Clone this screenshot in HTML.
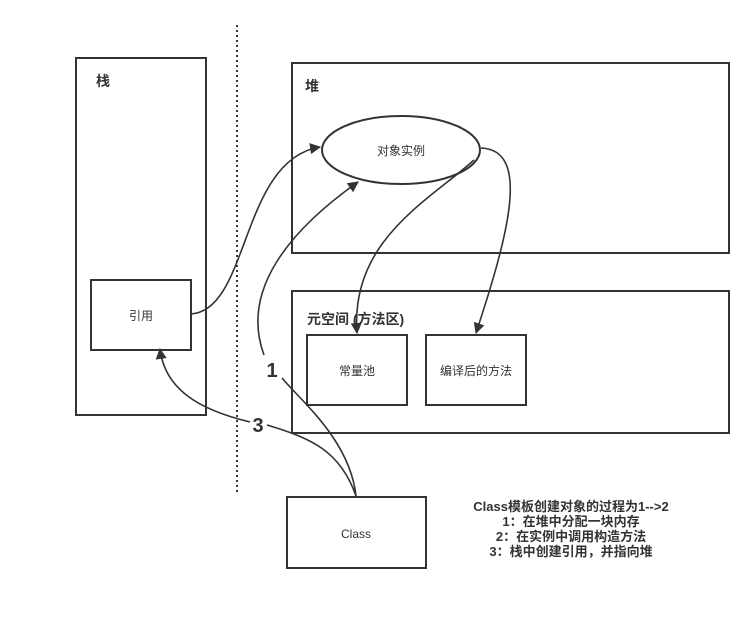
<!DOCTYPE html>
<html><head><meta charset="utf-8"><style>
body{margin:0;background:#fff;}
svg{display:block;font-family:"Liberation Sans","Noto Sans CJK SC",sans-serif;}
</style></head><body>
<svg width="754" height="634" viewBox="0 0 754 634" xmlns="http://www.w3.org/2000/svg">
<defs><marker id="a" viewBox="0 0 10 10" refX="9" refY="5" markerWidth="13" markerHeight="11" markerUnits="userSpaceOnUse" orient="auto"><path d="M0,0 L10,5 L0,10 z" fill="#333"/></marker></defs>
<g fill="none" stroke="#333" stroke-width="2">
<rect x="76" y="58" width="130" height="357"/>
<rect x="292" y="63" width="437" height="190"/>
<rect x="292" y="291" width="437" height="142"/>
<rect x="91" y="280" width="100" height="70"/>
<ellipse cx="401" cy="150" rx="79" ry="34"/>
<rect x="307" y="335" width="100" height="70"/>
<rect x="426" y="335" width="100" height="70"/>
<rect x="287" y="497" width="139" height="71"/>
<line x1="237" y1="25" x2="237" y2="495" stroke-dasharray="2,3"/>
</g>
<g fill="none" stroke="#333" stroke-width="1.6">
<path d="M191,314 C250,310 240,160 320,147" marker-end="url(#a)"/>
<path d="M356,496 C350,440 300,400 282,378" />
<path d="M264,355 C240,290 290,230 358,182" marker-end="url(#a)"/>
<path d="M356,496 C340,450 310,438 267,425"/>
<path d="M250,422 C200,410 165,390 160,349" marker-end="url(#a)"/>
<path d="M474,160 C430,200 350,240 357,333" marker-end="url(#a)"/>
<path d="M481,148 C530,150 510,230 476,333" marker-end="url(#a)"/>
</g>
<g fill="#333" font-size="13">
<text x="96" y="86" font-weight="bold" font-size="14">栈</text>
<text x="305" y="91" font-weight="bold" font-size="14">堆</text>
<text x="307" y="324" font-weight="bold" font-size="14">元空间 (方法区)</text>
<text x="141" y="320" text-anchor="middle" font-size="12">引用</text>
<text x="401" y="155" text-anchor="middle" font-size="12">对象实例</text>
<text x="357" y="375" text-anchor="middle" font-size="12">常量池</text>
<text x="476" y="375" text-anchor="middle" font-size="12">编译后的方法</text>
<text x="356" y="538" text-anchor="middle" font-size="12">Class</text>
<text x="272" y="377" text-anchor="middle" font-weight="bold" font-size="20">1</text>
<text x="258" y="432" text-anchor="middle" font-weight="bold" font-size="20">3</text>
<g font-weight="bold" font-size="13" text-anchor="middle">
<text x="571" y="511">Class模板创建对象的过程为1--&gt;2</text>
<text x="571" y="526">1：在堆中分配一块内存</text>
<text x="571" y="541">2：在实例中调用构造方法</text>
<text x="571" y="556">3：栈中创建引用，并指向堆</text>
</g>
</g>
</svg>
</body></html>
